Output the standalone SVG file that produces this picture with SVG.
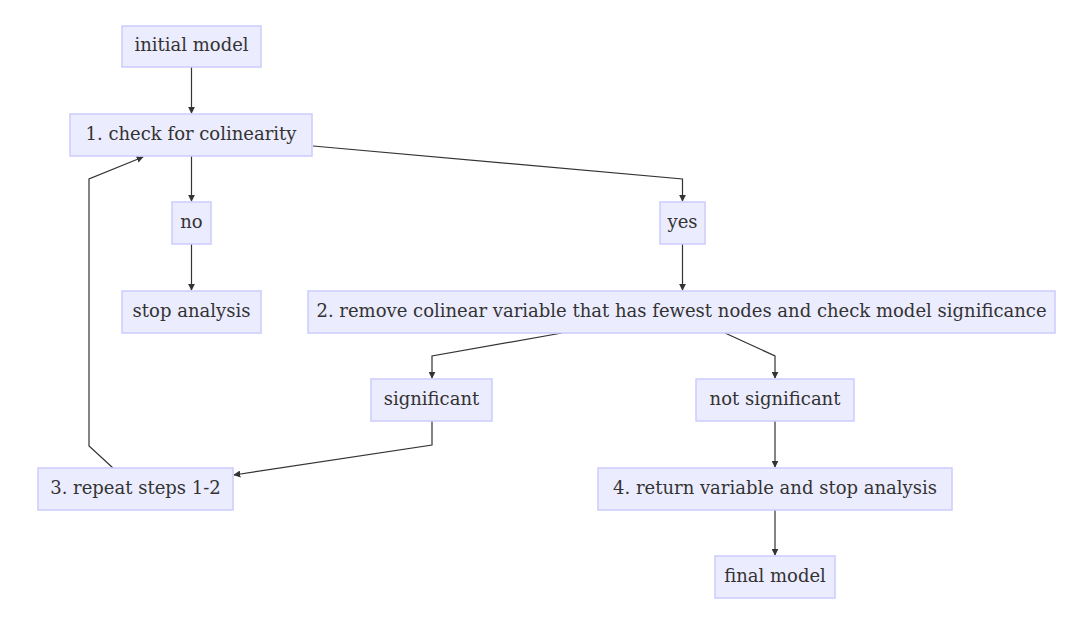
<svg xmlns="http://www.w3.org/2000/svg" width="1079" height="622" viewBox="0 0 1079 622">
<defs>
<style>
.node rect{fill:#ECECFF;stroke:#CCCCFF;stroke-width:1.5}
.node text{font-family:"DejaVu Serif","Liberation Serif",serif;font-size:18px;fill:#333;text-anchor:middle;dominant-baseline:central}
.edges path{fill:none;stroke:#333;stroke-width:1.2}
</style>
<marker id="arr" viewBox="0 0 10 10" refX="9" refY="5" markerWidth="7" markerHeight="7" orient="auto" markerUnits="userSpaceOnUse">
<path d="M0,0 L10,5 L0,10 z" fill="#333"/>
</marker>
</defs>
<rect width="1079" height="622" fill="#fff"/>
<g class="edges">
<path d="M191.5,67 L191.5,113" marker-end="url(#arr)"/>
<path d="M191.5,156 L191.5,201" marker-end="url(#arr)"/>
<path d="M313,146 L682.5,179 L682.5,201" marker-end="url(#arr)"/>
<path d="M191.5,244 L191.5,290" marker-end="url(#arr)"/>
<path d="M682.5,244 L682.5,290" marker-end="url(#arr)"/>
<path d="M562,333 L432,356 L432,378" marker-end="url(#arr)"/>
<path d="M725,333 L775,356 L775,378" marker-end="url(#arr)"/>
<path d="M432,421 L432,445 L234,475" marker-end="url(#arr)"/>
<path d="M113,468 L89,446 L89,179 L143,157" marker-end="url(#arr)"/>
<path d="M775,421 L775,467" marker-end="url(#arr)"/>
<path d="M775,510 L775,555" marker-end="url(#arr)"/>
</g>
<g id="n-initial" class="node"><rect x="122" y="26" width="139" height="41"/><text x="191.5" y="44.5">initial model</text></g>
<g id="n-check" class="node"><rect x="70" y="114" width="242" height="42"/><text x="191" y="133">1. check for colinearity</text></g>
<g id="n-no" class="node"><rect x="172" y="202" width="39" height="42"/><text x="191.5" y="221">no</text></g>
<g id="n-yes" class="node"><rect x="660" y="202" width="45" height="42"/><text x="682.5" y="221">yes</text></g>
<g id="n-stop" class="node"><rect x="122" y="291" width="139" height="42"/><text x="191.5" y="310">stop analysis</text></g>
<g id="n-remove" class="node"><rect x="308" y="291" width="747" height="42"/><text x="681.5" y="310">2. remove colinear variable that has fewest nodes and check model significance</text></g>
<g id="n-sig" class="node"><rect x="371" y="379" width="121" height="42"/><text x="431.5" y="398">significant</text></g>
<g id="n-notsig" class="node"><rect x="696" y="379" width="158" height="42"/><text x="775" y="398">not significant</text></g>
<g id="n-repeat" class="node"><rect x="38" y="468" width="195" height="42"/><text x="135.5" y="487">3. repeat steps 1-2</text></g>
<g id="n-return" class="node"><rect x="598" y="468" width="354" height="42"/><text x="775" y="487">4. return variable and stop analysis</text></g>
<g id="n-final" class="node"><rect x="715" y="556" width="120" height="42"/><text x="775" y="575">final model</text></g>
</svg>
